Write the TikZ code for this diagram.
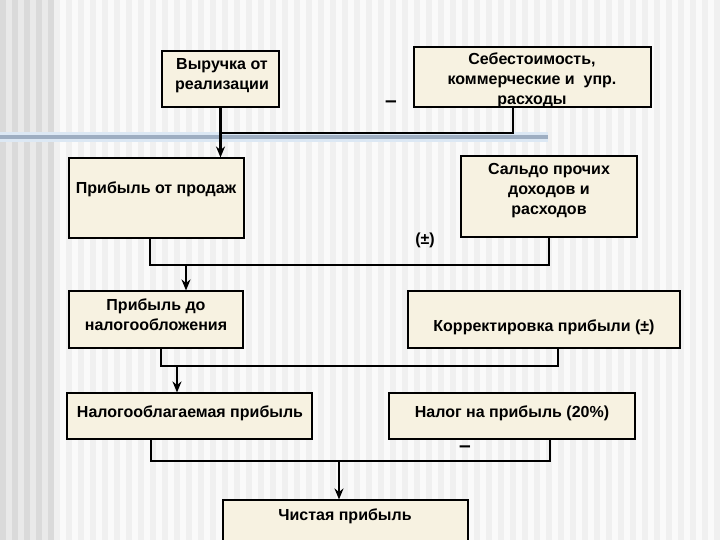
\documentclass[tikz,border=0pt]{standalone}
\usepackage{fontspec}
\setmainfont{Liberation Sans}
\usetikzlibrary{arrows.meta}
\definecolor{boxfill}{RGB}{247,242,225}
\definecolor{stripeA}{RGB}{218,218,218}
\definecolor{stripeB}{RGB}{233,233,233}
\definecolor{paleA}{RGB}{240,240,240}
\definecolor{paleB}{RGB}{250,250,250}
\definecolor{band}{RGB}{158,174,194}
\definecolor{bandedge}{RGB}{220,232,244}
\def\frame{(0,0) rectangle (720,540)}
\tikzset{
  box/.style={draw=black, line width=1.1pt, fill=boxfill, inner sep=0pt},
  lbl/.style={font=\bfseries\fontsize{16}{20}\selectfont, align=center, inner sep=0pt},
  sign/.style={font=\bfseries\fontsize{21}{21}\selectfont, inner sep=0pt},
  link/.style={line width=2.4pt},
  arr/.style={link, -{Stealth[length=11pt,width=9pt]}}
}

\begin{document}
\begin{tikzpicture}[x=1pt,y=-1pt]
  \useasboundingbox \frame;
  \clip \frame;

  %striped background
  \fill[paleB] \frame;
  \foreach \s in {54,66,...,714} \fill[paleA] (\s,0) rectangle ++(6,540);
  \fill[stripeB] (0,0) rectangle (54,540);
  \foreach \s in {0,12,...,48} \fill[stripeA] (\s,0) rectangle ++(6,540);
  \fill[bandedge] (0,132) rectangle (548,142);
  \fill[band] (0,135) rectangle (548,139);

  %boxes
  \node[box, minimum width=117pt, minimum height=56pt] (vyruchka) at (220.5,79) {};
  \node[box, minimum width=237pt, minimum height=60pt] (sebest) at (532.5,77) {};
  \node[box, minimum width=175pt, minimum height=80pt] (prodazh) at (156.5,198) {};
  \node[box, minimum width=176pt, minimum height=81pt] (saldo) at (549,196.5) {};
  \node[box, minimum width=174pt, minimum height=57pt] (donalog) at (156,319.5) {};
  \node[box, minimum width=272pt, minimum height=57pt] (korrekt) at (544,319.5) {};
  \node[box, minimum width=245pt, minimum height=46pt] (nalogbaza) at (189.5,416) {};
  \node[box, minimum width=246pt, minimum height=46pt] (nalog) at (512,416) {};
  \node[box, minimum width=245pt, minimum height=50pt] (chistaya) at (345.5,525) {};

  %texts
  \node[lbl] (vyruchka-t) at (222,76) {Выручка от\\реализации};
  \node[lbl] (sebest-t) at (532,80) {Себестоимость,\\коммерческие и\ \ упр.\\расходы};
  \node[sign] (minus1) at (391,104) {--};
  \node[lbl] (prodazh-t) at (156,189) {Прибыль от продаж};
  \node[lbl] (saldo-t) at (549,191) {Сальдо прочих\\доходов и\\расходов};
  \node[lbl] (pm1) at (425,240) {(±)};
  \node[lbl] (donalog-t) at (156,315) {Прибыль до\\налогообложения};
  \node[lbl] (korrekt-t) at (544,327) {Корректировка прибыли (±)};
  \node[lbl] (nalogbaza-t) at (190,413) {Налогооблагаемая прибыль};
  \node[lbl] (nalog-t) at (512,413) {Налог на прибыль (20\%)};
  \node[sign] (minus2) at (465,449) {--};
  \node[lbl] (chistaya-t) at (345,516) {Чистая прибыль};

  %connectors
  \coordinate (j1) at (220,133);
  \coordinate (j2) at (186,265);
  \coordinate (j3) at (177,366);
  \coordinate (j4) at (339,461);

  \draw[link] ([xshift=-19.5pt]sebest.south) |- (vyruchka.south |- j1);
  \draw[arr] (vyruchka.south) -- (vyruchka.south |- prodazh.north);

  \draw[link] ([xshift=-6.5pt]prodazh.south) |- (saldo.south |- j2) -- (saldo.south);
  \draw[arr] (j2) -- (j2 |- donalog.north);

  \draw[link] ([xshift=5pt]donalog.south) |- ([xshift=14pt]korrekt.south |- j3) -- ([xshift=14pt]korrekt.south);
  \draw[arr] (j3) -- (j3 |- nalogbaza.north);

  \draw[link] ([xshift=-38.5pt]nalogbaza.south) |- ([xshift=38pt]nalog.south |- j4) -- ([xshift=38pt]nalog.south);
  \draw[arr] (j4) -- (j4 |- chistaya.north);
\end{tikzpicture}
\end{document}
